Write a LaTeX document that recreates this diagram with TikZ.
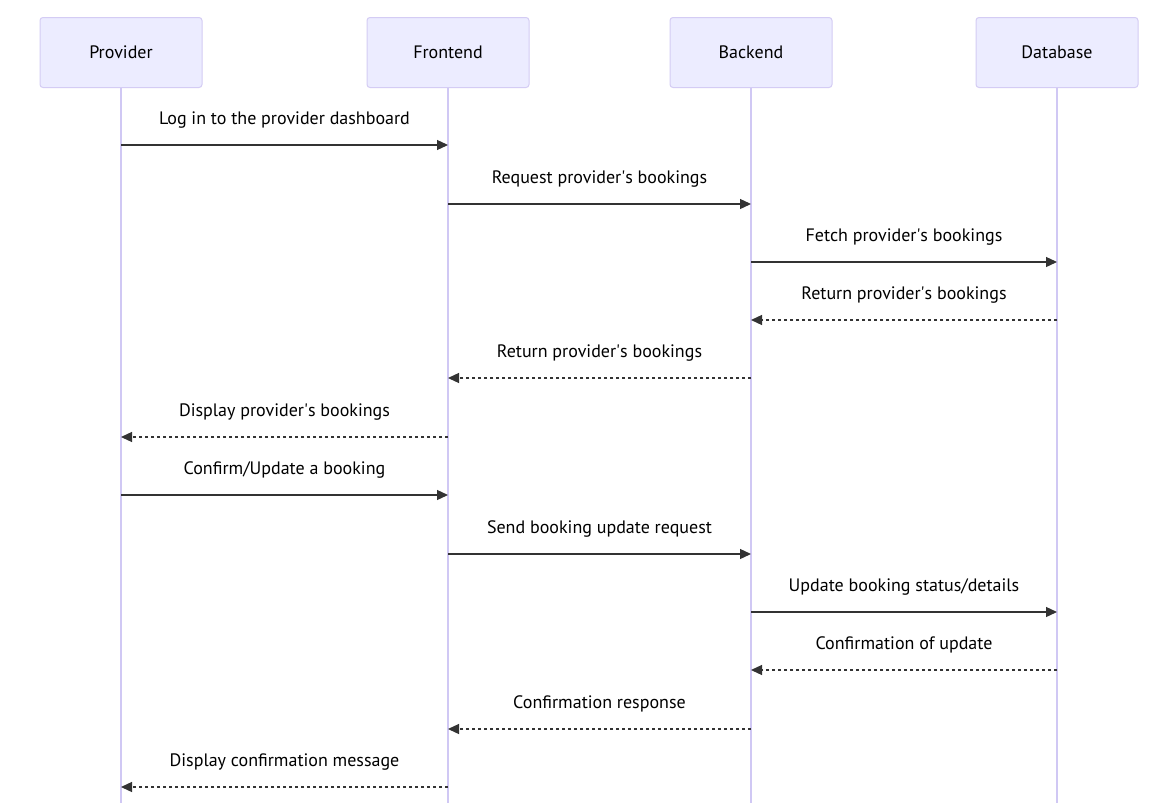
\documentclass[tikz,border=0pt]{standalone}
\usepackage{fontspec}
\setmainfont{PT Sans}
\usetikzlibrary{arrows.meta,calc}
\definecolor{actorfill}{HTML}{ECECFF}
\definecolor{actorline}{HTML}{D4CCF4}
\definecolor{lifeline}{HTML}{D0C8F4}
\definecolor{msgline}{HTML}{333333}
\begin{document}
\begin{tikzpicture}[x=1pt,y=-1pt,
  actor/.style={draw=actorline,fill=actorfill,rounded corners=3pt,line width=1pt,
    minimum width=162pt,minimum height=70pt,inner sep=0pt,anchor=north,
    font=\fontsize{18}{20}\selectfont},
  life/.style={draw=lifeline,line width=1.6pt},
  msg/.style={draw=msgline,line width=1.3pt,-{Triangle[length=11pt,width=10pt]}},
  reply/.style={msg,dash pattern=on 3pt off 3pt},
  lbl/.style={font=\fontsize{18}{20}\selectfont,inner sep=0pt,text=black}]
\useasboundingbox (0,0) rectangle (1176,803);
\fill[white] (0,0) rectangle (1176,803);

% participants and lifelines
\foreach \n/\t/\x in {pv/Provider/121,fe/Frontend/448,be/Backend/751,db/Database/1057}{
  \coordinate (\n-end) at (\x,803);
  \draw[life] (\x,87) -- (\n-end);
  \node[actor] (\n) at (\x,17) {\t};
}

% message rows: from, to, y, label, style
\foreach \a/\b/\y/\t/\s in {
  pv/fe/145/{Log in to the provider dashboard}/msg,
  fe/be/204/{Request provider\textquotesingle s bookings}/msg,
  be/db/262/{Fetch provider\textquotesingle s bookings}/msg,
  db/be/320/{Return provider\textquotesingle s bookings}/reply,
  be/fe/378/{Return provider\textquotesingle s bookings}/reply,
  fe/pv/437/{Display provider\textquotesingle s bookings}/reply,
  pv/fe/495/{Confirm/Update a booking}/msg,
  fe/be/554/{Send booking update request}/msg,
  be/db/612/{Update booking status/details}/msg,
  db/be/670/{Confirmation of update}/reply,
  be/fe/729/{Confirmation response}/reply,
  fe/pv/787/{Display confirmation message}/reply}{
  \coordinate (s-\y) at (\a |- 0,\y);
  \coordinate (e-\y) at (\b |- 0,\y);
  \draw[\s] (s-\y) -- (e-\y);
  \node[lbl] (l-\y) at ($(s-\y)!0.5!(e-\y)+(0,-25)$) {\t};
}
\end{tikzpicture}
\end{document}
